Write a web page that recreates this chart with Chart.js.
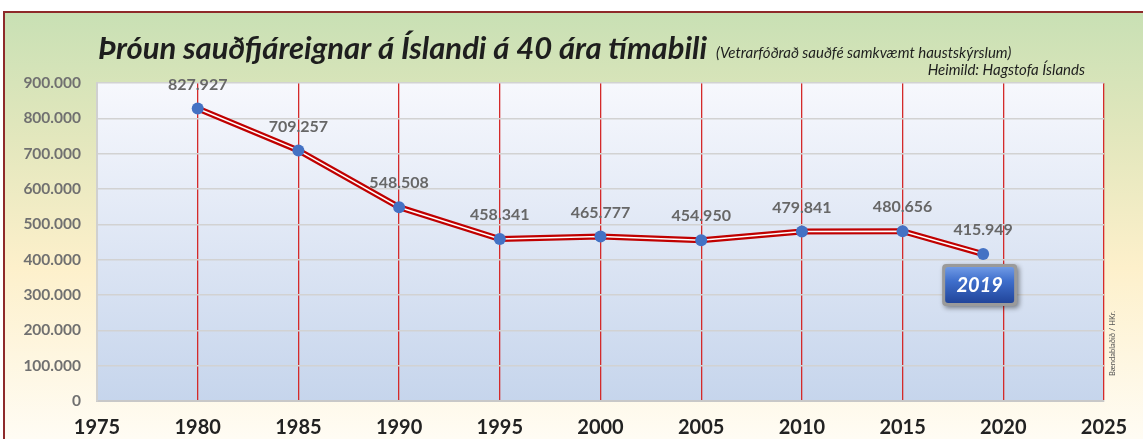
<!DOCTYPE html>
<html>
<head>
<meta charset="utf-8">
<script src="https://cdn.jsdelivr.net/npm/chart.js@4/dist/chart.umd.min.js"></script>
<style>
    html, body { margin: 0; padding: 0; background: #fff; }
    #wrap { position: relative; width: 1143px; height: 439px; }
</style>
</head>
<body>
<div id="wrap"><canvas id="chart" width="1143" height="439"></canvas></div>
<script>
// data
const years = [1980, 1985, 1990, 1995, 2000, 2005, 2010, 2015, 2019];
const sheep = [827927, 709257, 548508, 458341, 465777, 454950, 479841, 480656, 415949];
const xTicks = [1975, 1980, 1985, 1990, 1995, 2000, 2005, 2010, 2015, 2020, 2025];
const yTicks = [0, 100000, 200000, 300000, 400000, 500000, 600000, 700000, 800000, 900000];

const title = 'Þróun sauðfjáreignar á Íslandi á 40 ára tímabili';
const subtitle = '(Vetrarfóðrað sauðfé samkvæmt haustskýrslum)';
const source = 'Heimild: Hagstofa Íslands';
const credit = 'Bændablaðið / HKr.';
const lastLabel = '2019';

const FONT = 'Lato, "Liberation Sans", sans-serif';
const fmt = v => v.toLocaleString('de-DE');
const points = years.map((y, i) => ({ x: y, y: sheep[i] }));

// page background, frame, title and plot area fill
const background = {
    id: 'background',
    beforeDraw(chart) {
        const { ctx, chartArea: a } = chart;
        ctx.save();
        const g = ctx.createLinearGradient(0, 11, 0, 439);
        g.addColorStop(0, '#c8e0b4');
        g.addColorStop(0.3, '#e3e7bd');
        g.addColorStop(0.6, '#fdf0cb');
        g.addColorStop(1, '#fffcf4');
        ctx.fillStyle = g;
        ctx.fillRect(4, 11, chart.width, chart.height);
        ctx.strokeStyle = '#8e2a2a';
        ctx.lineWidth = 2;
        ctx.beginPath();
        ctx.moveTo(4, 445);
        ctx.lineTo(4, 12);
        ctx.lineTo(1150, 12);
        ctx.stroke();

        const pg = ctx.createLinearGradient(0, a.top, 0, a.bottom);
        pg.addColorStop(0, '#f7f8fd');
        pg.addColorStop(1, '#c6d5ec');
        ctx.fillStyle = pg;
        ctx.fillRect(a.left, a.top, a.right - a.left, a.bottom - a.top);

        ctx.fillStyle = '#1e1e1e';
        ctx.font = 'italic bold 31px ' + FONT;
        ctx.textBaseline = 'alphabetic';
        ctx.textAlign = 'left';
        ctx.fillText(title, 98, 59);
        const tw = ctx.measureText(title).width;
        ctx.font = 'italic 15px ' + FONT;
        ctx.fillText(subtitle, 98 + tw + 9, 58);
        ctx.textAlign = 'right';
        ctx.fillText(source, 1085, 75);

        ctx.translate(1115, 376);
        ctx.rotate(-Math.PI / 2);
        ctx.textAlign = 'left';
        ctx.font = '7.5px ' + FONT;
        ctx.fillStyle = '#555';
        ctx.fillText(credit, 0, 0);
        ctx.restore();
    }
};

// value labels above points and the 2019 badge
const labels = {
    id: 'labels',
    afterDatasetsDraw(chart) {
        const { ctx } = chart;
        const meta = chart.getDatasetMeta(0);
        ctx.save();
        ctx.font = 'bold 16px ' + FONT;
        ctx.fillStyle = '#676767';
        ctx.textAlign = 'center';
        ctx.textBaseline = 'middle';
        meta.data.forEach((pt, i) => {
            ctx.fillText(fmt(sheep[i]), pt.x, pt.y - 24);
        });

        const last = meta.data[meta.data.length - 1];
        const w = 75, h = 42;
        const bx = last.x - 41, by = last.y + 10;
        ctx.shadowColor = 'rgba(0,0,0,0.45)';
        ctx.shadowBlur = 5;
        ctx.shadowOffsetX = 2;
        ctx.shadowOffsetY = 2;
        ctx.fillStyle = '#9a9a9a';
        ctx.beginPath();
        ctx.roundRect(bx, by, w, h, 4);
        ctx.fill();
        ctx.shadowColor = 'transparent';
        const bg = ctx.createLinearGradient(0, by, 0, by + h);
        bg.addColorStop(0, '#7aa3ea');
        bg.addColorStop(0.4, '#3f6fcc');
        bg.addColorStop(1, '#1d3f93');
        ctx.fillStyle = bg;
        ctx.beginPath();
        ctx.roundRect(bx + 3, by + 3, w - 6, h - 6, 3);
        ctx.fill();
        ctx.fillStyle = '#ffffff';
        ctx.font = 'italic bold 20px ' + FONT;
        ctx.fillText(lastLabel, bx + w / 2, by + h / 2 + 1);
        ctx.restore();
    }
};

const ctx = document.querySelector('#chart').getContext('2d');
const chart = new Chart(ctx, {
    type: 'line',
    data: {
        datasets: [{
            data: points,
            borderColor: '#ffffff',
            borderWidth: 1.5,
            pointRadius: 6,
            pointBackgroundColor: '#4472c4',
            pointBorderWidth: 0,
            tension: 0
        }, {
            data: points,
            borderColor: '#c00000',
            borderWidth: 6,
            pointRadius: 0,
            tension: 0
        }]
    },
    options: {
        responsive: false,
        animation: false,
        layout: { padding: { top: 83, right: 39, bottom: 0, left: 0 } },
        plugins: { legend: { display: false }, tooltip: { enabled: false } },
        scales: {
            x: {
                type: 'linear',
                min: 1975,
                max: 2025,
                afterBuildTicks: s => { s.ticks = xTicks.map(v => ({ value: v })); },
                afterFit: s => { s.height = 38; },
                ticks: {
                    callback: v => String(v),
                    color: '#222',
                    font: { family: FONT, size: 20, weight: 'bold' },
                    padding: 15,
                    maxRotation: 0
                },
                grid: {
                    color: c => c.tick && c.tick.value === 1975 ? 'rgba(0,0,0,0)' : '#d42a2a',
                    lineWidth: 1.3,
                    drawTicks: false
                },
                border: { display: true, color: '#c8c8c8', width: 2 }
            },
            y: {
                min: 0,
                max: 900000,
                afterBuildTicks: s => { s.ticks = yTicks.map(v => ({ value: v })); },
                afterFit: s => { s.width = 97; },
                ticks: {
                    callback: v => fmt(v),
                    color: '#707070',
                    font: { family: FONT, size: 15.5, weight: 'bold' },
                    padding: 16
                },
                grid: { color: '#d2d2d2', lineWidth: 1.5, drawTicks: false },
                border: { display: true, color: '#d0d0d0', width: 2 }
            }
        }
    },
    plugins: [background, labels]
});
</script>
</body>
</html>
